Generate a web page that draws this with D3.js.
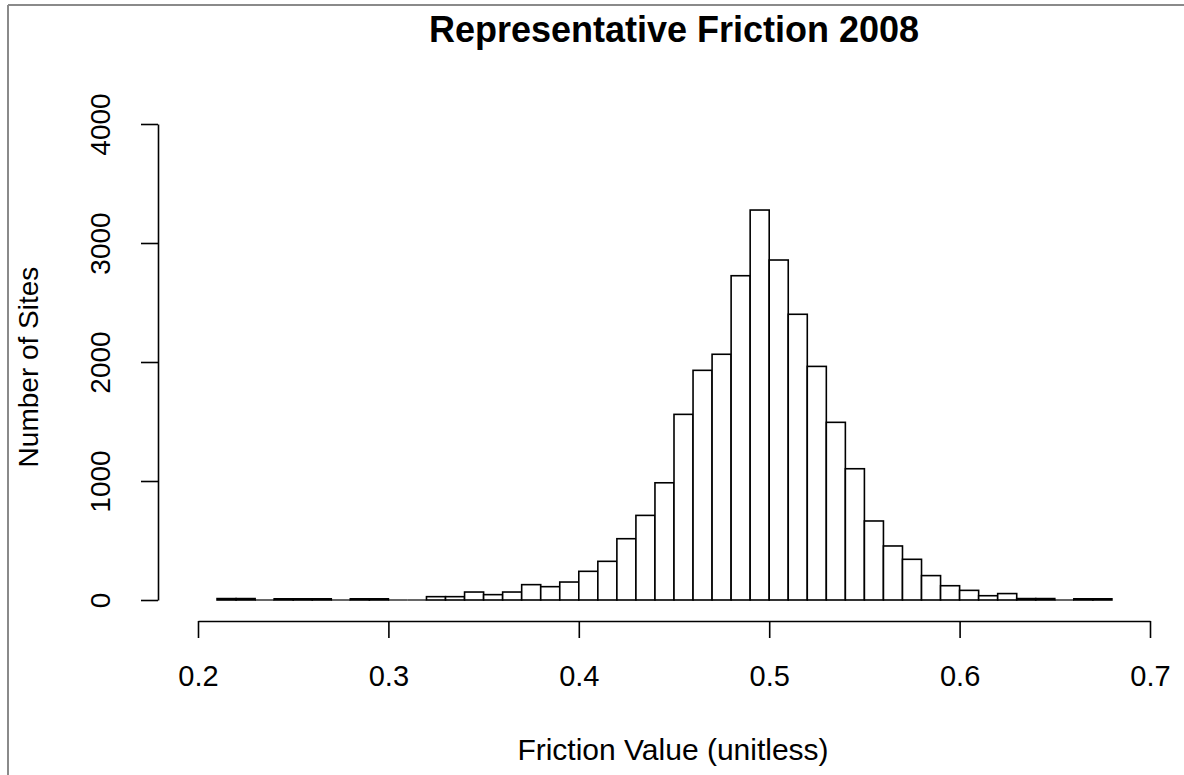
<!DOCTYPE html>
<html>
<head>
<meta charset="utf-8">
<script src="https://cdn.jsdelivr.net/npm/d3@7"></script>
<style>
	body { margin: 0; background: #fff; }
	svg text { font-family: "Liberation Sans", Arial, sans-serif; fill: #000; }
</style>
</head>
<body>
<div id="hist"></div>
<script>
// bins of width 0.01, left edges
const binStarts = [0.21, 0.22, 0.23, 0.24, 0.25, 0.26, 0.27, 0.28, 0.29, 0.30,
	0.31, 0.32, 0.33, 0.34, 0.35, 0.36, 0.37, 0.38, 0.39, 0.40,
	0.41, 0.42, 0.43, 0.44, 0.45, 0.46, 0.47, 0.48, 0.49, 0.50,
	0.51, 0.52, 0.53, 0.54, 0.55, 0.56, 0.57, 0.58, 0.59, 0.60,
	0.61, 0.62, 0.63, 0.64, 0.65, 0.66, 0.67];
const binWidth = 0.01;
const counts = [12, 12, 0, 10, 10, 10, 0, 10, 10, 0,
	0, 28, 28, 67, 45, 67, 129, 112, 151, 241,
	325, 515, 711, 985, 1560, 1930, 2065, 2725, 3277, 2857,
	2401, 1963, 1493, 1103, 664, 454, 342, 205, 120, 81,
	36, 54, 12, 12, 0, 10, 10];
const xTicks = [0.2, 0.3, 0.4, 0.5, 0.6, 0.7];
const yTicks = [0, 1000, 2000, 3000, 4000];
const title = 'Representative Friction 2008';
const xName = 'Friction Value (unitless)';
const yName = 'Number of Sites';

const width = 1184, height = 775;
const plot = { left: 198, right: 1150, top: 124, bottom: 600 };
const fontSize = 28;

let svg = d3.select('#hist').append('svg')
	.attr('width', width)
	.attr('height', height);

// frame of the screenshot
svg.append('line').attr('x1', 8).attr('x2', width).attr('y1', 5).attr('y2', 5)
	.attr('stroke', '#8a8a8a').attr('stroke-width', 2);
svg.append('line').attr('x1', 8).attr('x2', 8).attr('y1', 5).attr('y2', height)
	.attr('stroke', '#8a8a8a').attr('stroke-width', 2);

let xScale = d3.scaleLinear()
	.domain([0.2, 0.7])
	.range([plot.left, plot.right]);
let yScale = d3.scaleLinear()
	.domain([0, 4000])
	.range([plot.bottom, plot.top]);

let bins = binStarts.map((d, i) => ({ x0: d, x1: d + binWidth, n: counts[i] }));

// empty bins: R still draws a flat rectangle on the baseline
svg.append('g').attr('class', 'empty')
	.selectAll('line')
	.data(bins.filter(b => b.n === 0))
	.enter()
	.append('line')
	.attr('x1', d => xScale(d.x0))
	.attr('x2', d => xScale(d.x1))
	.attr('y1', yScale(0))
	.attr('y2', yScale(0))
	.attr('stroke', '#000')
	.attr('stroke-width', 1.2);

// bars
svg.append('g').attr('class', 'bars')
	.selectAll('rect')
	.data(bins.filter(b => b.n > 0))
	.enter()
	.append('rect')
	.attr('x', d => xScale(d.x0))
	.attr('width', d => xScale(d.x1) - xScale(d.x0))
	.attr('y', d => yScale(d.n))
	.attr('height', d => yScale(0) - yScale(d.n))
	.attr('fill', '#fff')
	.attr('stroke', '#000')
	.attr('stroke-width', 1.6);

// x axis
let xAxis = d3.axisBottom(xScale)
	.tickValues(xTicks)
	.tickFormat(d3.format('.1f'))
	.tickSize(17)
	.tickSizeOuter(0)
	.tickPadding(27);
let gX = svg.append('g')
	.attr('class', 'x axis')
	.attr('transform', 'translate(0,621)')
	.call(xAxis);
gX.selectAll('path, line').attr('stroke', '#000').attr('stroke-width', 1.6);
gX.selectAll('text')
	.attr('font-size', (fontSize + 1) + 'px')
	.style('font-family', '"Liberation Sans", Arial, sans-serif');

// y axis, labels rotated like R
let yAxis = d3.axisLeft(yScale)
	.tickValues(yTicks)
	.tickFormat(d3.format('d'))
	.tickSize(17)
	.tickSizeOuter(0);
let gY = svg.append('g')
	.attr('class', 'y axis')
	.attr('transform', 'translate(158,0)')
	.call(yAxis);
gY.selectAll('path, line').attr('stroke', '#000').attr('stroke-width', 1.6);
gY.selectAll('text')
	.attr('x', 0)
	.attr('y', -48)
	.attr('dy', 0)
	.attr('transform', 'rotate(-90)')
	.style('text-anchor', 'middle')
	.attr('font-size', fontSize + 'px')
	.style('font-family', '"Liberation Sans", Arial, sans-serif');

// titles
svg.append('text')
	.attr('x', 674)
	.attr('y', 42)
	.style('text-anchor', 'middle')
	.style('font-weight', 'bold')
	.style('font-size', '36px')
	.text(title);
svg.append('text')
	.attr('x', 673)
	.attr('y', 760)
	.style('text-anchor', 'middle')
	.style('font-size', '30px')
	.text(xName);
svg.append('text')
	.attr('transform', `translate(38,${(plot.top + plot.bottom) / 2 + 5}) rotate(-90)`)
	.style('text-anchor', 'middle')
	.style('font-size', fontSize + 'px')
	.text(yName);
</script>
</body>
</html>
